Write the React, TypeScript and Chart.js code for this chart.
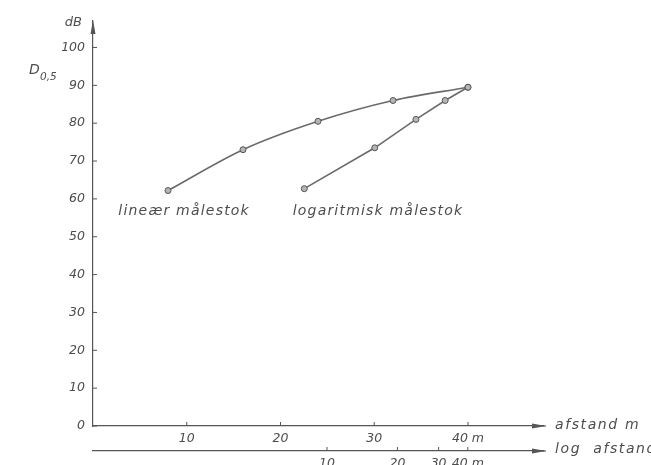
import React, { useEffect, useRef } from 'react';
import { Chart, registerables } from 'chart.js';

Chart.register(...registerables);

// ---- data ----
const distances = [8, 16, 24, 32, 40]; // metres
const linearScaleDb = [62.2, 73, 80.5, 86, 89.5];
const logScaleDb = [62.7, 73.5, 81, 86, 89.5];
const yTickValues = [0, 10, 20, 30, 40, 50, 60, 70, 80, 90, 100];
const xTickValues = [10, 20, 30, 40];
const logTickValues = [10, 20, 30, 40];
const seriesNames = ['lineær målestok', 'logaritmisk målestok'];
const seriesLabelX = [2.7, 21.3]; // label anchor in linear-axis metres
const seriesLabelY = [56.6, 56.6]; // label anchor in dB

const AXIS = '#555555';
const LINE = '#6a6a6a';
const TEXT = '#4d4d4d';
const FAMILY = '"DejaVu Sans", "Liberation Sans", sans-serif';

const tickFont = { family: FAMILY, size: 12.5, style: 'italic' as const };

const decorPlugin = {
  id: 'decor',
  afterDraw(chart: any) {
    const { ctx, chartArea: a, scales } = chart;
    const x = scales.x;
    const xl = scales.xLog;
    const y = scales.y;
    ctx.save();
    ctx.strokeStyle = AXIS;
    ctx.fillStyle = AXIS;
    ctx.lineWidth = 1;
    const seg = (x1: number, y1: number, x2: number, y2: number) => {
      ctx.beginPath();
      ctx.moveTo(x1, y1);
      ctx.lineTo(x2, y2);
      ctx.stroke();
    };
    // tick marks
    for (const t of y.ticks) {
      const py = y.getPixelForValue(t.value);
      seg(a.left, py, a.left + 4, py);
    }
    for (const t of x.ticks) {
      const px = x.getPixelForValue(t.value);
      seg(px, x.top, px, x.top - 4);
    }
    for (const t of xl.ticks) {
      const px = xl.getPixelForValue(t.value);
      seg(px, xl.top, px, xl.top - 4);
    }
    // arrows
    const arrowRight = (tipX: number, yy: number) => {
      seg(a.right, yy, tipX, yy);
      ctx.beginPath();
      ctx.moveTo(tipX, yy);
      ctx.lineTo(tipX - 14, yy - 2.5);
      ctx.lineTo(tipX - 14, yy + 2.5);
      ctx.closePath();
      ctx.fill();
    };
    arrowRight(a.right + 3, x.top);
    arrowRight(a.right + 3, xl.top);
    ctx.beginPath();
    ctx.moveTo(a.left, a.top - 1);
    ctx.lineTo(a.left - 2.5, a.top + 13);
    ctx.lineTo(a.left + 2.5, a.top + 13);
    ctx.closePath();
    ctx.fill();

    // texts
    ctx.fillStyle = TEXT;
    ctx.textBaseline = 'middle';
    ctx.textAlign = 'left';
    ctx.font = `italic 14px ${FAMILY}`;
    (ctx as any).letterSpacing = '1.6px';
    ctx.fillText('afstand m', a.right + 12, x.top - 1);
    ctx.fillText('log  afstand', a.right + 12, xl.top - 2);
    (ctx as any).letterSpacing = '1.2px';
    for (let i = 0; i < seriesNames.length; i++) {
      ctx.fillText(seriesNames[i], x.getPixelForValue(seriesLabelX[i]), y.getPixelForValue(seriesLabelY[i]));
    }
    (ctx as any).letterSpacing = '0px';
    ctx.textAlign = 'right';
    ctx.font = `italic 13px ${FAMILY}`;
    ctx.fillText('dB', a.left - 11, a.top + 2);
    ctx.textAlign = 'left';
    ctx.font = `italic 14px ${FAMILY}`;
    ctx.fillText('D', 29, 70);
    ctx.font = `italic 10.5px ${FAMILY}`;
    ctx.fillText('0,5', 40, 77);
    ctx.restore();
  },
};

const noGrid = { display: false, drawTicks: false, tickLength: 0 };

export default function App() {
  const ref = useRef<HTMLCanvasElement | null>(null);

  useEffect(() => {
    if (!ref.current) return;
    const chart = new Chart(ref.current, {
      type: 'line',
      data: {
        datasets: [
          {
            label: seriesNames[0],
            data: distances.map((d, i) => ({ x: d, y: linearScaleDb[i] })),
            xAxisID: 'x',
            yAxisID: 'y',
            borderColor: LINE,
            borderWidth: 1.6,
            cubicInterpolationMode: 'monotone',
            pointRadius: 3,
            pointBorderWidth: 1,
            pointBorderColor: '#555',
            pointBackgroundColor: '#b5b5b5',
          },
          {
            label: seriesNames[1],
            data: distances.map((d, i) => ({ x: d, y: logScaleDb[i] })),
            xAxisID: 'xLog',
            yAxisID: 'y',
            borderColor: LINE,
            borderWidth: 1.6,
            tension: 0,
            pointRadius: 3,
            pointBorderWidth: 1,
            pointBorderColor: '#555',
            pointBackgroundColor: '#b5b5b5',
          },
        ],
      },
      options: {
        animation: false,
        responsive: false,
        devicePixelRatio: 1,
        layout: { padding: { left: 0, right: 108, top: 21, bottom: 0 } },
        plugins: { legend: { display: false }, tooltip: { enabled: false } },
        events: [],
        scales: {
          x: {
            type: 'linear',
            position: 'bottom',
            weight: 0,
            min: 0,
            max: 48,
            afterBuildTicks: (s: any) => {
              s.ticks = xTickValues.map((v) => ({ value: v }));
            },
            afterFit: (s: any) => {
              s.height = 25;
            },
            grid: noGrid,
            border: { display: true, color: AXIS, width: 1.2 },
            ticks: {
              padding: 5,
              autoSkip: false,
              maxRotation: 0,
              color: TEXT,
              font: tickFont,
              callback: (v: any) => (v === 40 ? '40 m' : String(v)),
            },
          },
          xLog: {
            type: 'logarithmic',
            position: 'bottom',
            weight: 1,
            min: 1,
            max: 83.8,
            afterBuildTicks: (s: any) => {
              s.ticks = logTickValues.map((v) => ({ value: v }));
            },
            afterFit: (s: any) => {
              s.height = 14;
            },
            grid: noGrid,
            border: { display: true, color: AXIS, width: 1.2 },
            ticks: {
              padding: 5,
              autoSkip: false,
              maxRotation: 0,
              color: TEXT,
              font: tickFont,
              callback: (v: any) => (v === 40 ? '40 m' : String(v)),
            },
          },
          y: {
            type: 'linear',
            position: 'left',
            min: 0,
            max: 107,
            afterBuildTicks: (s: any) => {
              s.ticks = yTickValues.map((v) => ({ value: v }));
            },
            afterFit: (s: any) => {
              s.width = 93;
            },
            grid: noGrid,
            border: { display: true, color: AXIS, width: 1.2 },
            ticks: {
              padding: 8,
              color: TEXT,
              font: tickFont,
              callback: (v: any) => String(v),
            },
          },
        },
      } as any,
      plugins: [decorPlugin],
    });
    return () => chart.destroy();
  }, []);

  return (
    <div style={{ position: 'fixed', left: 0, top: 0, width: 651, height: 465, background: '#fff' }}>
      <canvas ref={ref} width={651} height={465} style={{ display: 'block', width: 651, height: 465 }} />
    </div>
  );
}
